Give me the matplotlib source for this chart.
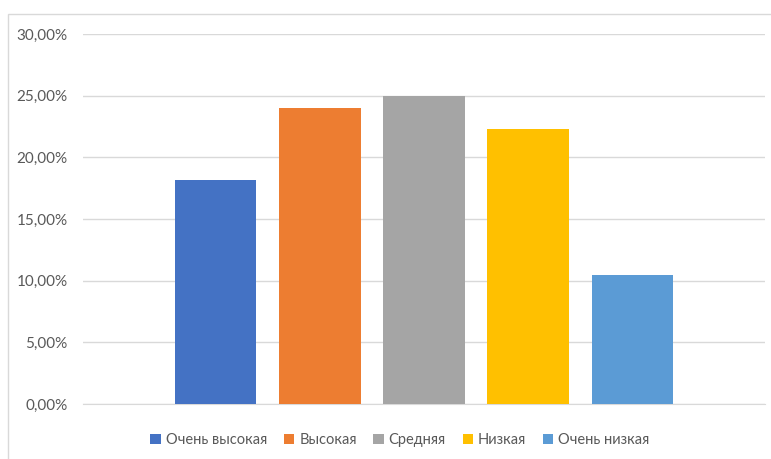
import matplotlib
matplotlib.use("Agg")
import matplotlib.pyplot as plt
from matplotlib.patches import Rectangle, Patch
from matplotlib.ticker import FuncFormatter, MultipleLocator

categories = ["Очень высокая", "Высокая", "Средняя", "Низкая", "Очень низкая"]
values = [18.2, 24.0, 25.0, 22.3, 10.5]
colors = ["#4472C4", "#ED7D31", "#A5A5A5", "#FFC000", "#5B9BD5"]

plt.rcParams['font.family'] = ['Lato', 'DejaVu Sans']

W, H = 771, 459
fig = plt.figure(figsize=(W/100, H/100), dpi=100)
fig.patches.append(Rectangle((8/W, -0.1), 1.2, (H-14)/H + 0.1, transform=fig.transFigure,
                             fill=False, edgecolor="#D9D9D9", linewidth=1))

ax = fig.add_axes([83/W, (H-404)/H, (765-83)/W, (404-34)/H])
x = list(range(len(categories)))
bars = ax.bar(x, [v/100 for v in values], width=0.785, color=colors, zorder=3)
ax.set_xlim(-1.27, 5.27)
ax.set_ylim(0, 0.30)
ax.yaxis.set_major_locator(MultipleLocator(0.05))
ax.yaxis.set_major_formatter(FuncFormatter(lambda v, p: f"{v*100:.2f}%".replace(".", ",")))
ax.grid(axis="y", color="#D9D9D9", linewidth=1, zorder=0)
for s in ["top", "right", "left"]:
    ax.spines[s].set_visible(False)
ax.spines["bottom"].set_color("#D9D9D9")
ax.set_xticks([])
ax.tick_params(axis="y", length=0, pad=11, labelcolor="#595959", labelsize=11)

handles = [Patch(facecolor=c, label=l) for c, l in zip(colors, categories)]
fig.legend(handles=handles, loc="center", bbox_to_anchor=(400/W, (H-440)/H), ncol=5,
           frameon=False, fontsize=10.5, handlelength=0.7, handleheight=0.7,
           handletextpad=0.35, columnspacing=1.15, labelcolor="#595959")

fig.savefig("out.png", dpi=100)
